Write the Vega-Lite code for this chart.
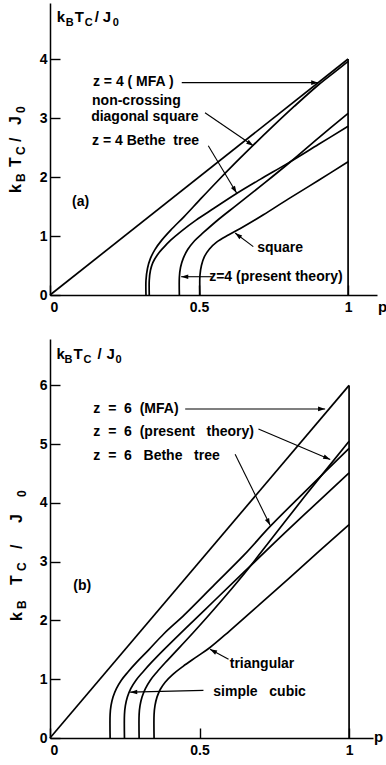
{
  "$schema": "https://vega.github.io/schema/vega-lite/v6.json",
  "padding": {"left": 8, "top": 3, "right": 0, "bottom": 0},
  "spacing": 24,
  "config": {
    "view": {"stroke": null},
    "font": "Liberation Sans",
    "axis": {
      "grid": false,
      "domainColor": "black",
      "domainWidth": 1.5,
      "tickColor": "black",
      "tickWidth": 1.4,
      "tickSize": -10,
      "labelColor": "black",
      "labelFont": "Liberation Sans",
      "labelFontWeight": "bold",
      "labelFontSize": 14
    },
    "text": {"font": "Liberation Sans", "fontWeight": "bold", "color": "black"}
  },
  "datasets": {
    "curvesA": [
      {"curve": "mfa", "i": 0, "p": 0, "tc": 0},
      {"curve": "mfa", "i": 1, "p": 1, "tc": 4},
      {"curve": "edge", "i": 0, "p": 1, "tc": 0},
      {"curve": "edge", "i": 1, "p": 1, "tc": 4},
      {"curve": "ncds", "i": 0, "p": 0.322, "tc": 0},
      {"curve": "ncds", "i": 1, "p": 0.322, "tc": 0.25},
      {"curve": "ncds", "i": 2, "p": 0.327, "tc": 0.45},
      {"curve": "ncds", "i": 3, "p": 0.337, "tc": 0.62},
      {"curve": "ncds", "i": 4, "p": 0.352, "tc": 0.77},
      {"curve": "ncds", "i": 5, "p": 0.375, "tc": 0.93},
      {"curve": "ncds", "i": 6, "p": 0.405, "tc": 1.1},
      {"curve": "ncds", "i": 7, "p": 0.45, "tc": 1.33},
      {"curve": "ncds", "i": 8, "p": 0.5, "tc": 1.6},
      {"curve": "ncds", "i": 9, "p": 0.56, "tc": 1.92},
      {"curve": "ncds", "i": 10, "p": 0.62, "tc": 2.23},
      {"curve": "ncds", "i": 11, "p": 0.682, "tc": 2.54},
      {"curve": "ncds", "i": 12, "p": 0.75, "tc": 2.87},
      {"curve": "ncds", "i": 13, "p": 0.82, "tc": 3.2},
      {"curve": "ncds", "i": 14, "p": 0.9, "tc": 3.56},
      {"curve": "ncds", "i": 15, "p": 0.96, "tc": 3.8},
      {"curve": "ncds", "i": 16, "p": 1, "tc": 3.96},
      {"curve": "bethe", "i": 0, "p": 0.333, "tc": 0},
      {"curve": "bethe", "i": 1, "p": 0.333, "tc": 0.25},
      {"curve": "bethe", "i": 2, "p": 0.337, "tc": 0.42},
      {"curve": "bethe", "i": 3, "p": 0.345, "tc": 0.55},
      {"curve": "bethe", "i": 4, "p": 0.36, "tc": 0.68},
      {"curve": "bethe", "i": 5, "p": 0.38, "tc": 0.8},
      {"curve": "bethe", "i": 6, "p": 0.405, "tc": 0.93},
      {"curve": "bethe", "i": 7, "p": 0.44, "tc": 1.08},
      {"curve": "bethe", "i": 8, "p": 0.49, "tc": 1.27},
      {"curve": "bethe", "i": 9, "p": 0.55, "tc": 1.47},
      {"curve": "bethe", "i": 10, "p": 0.626, "tc": 1.72},
      {"curve": "bethe", "i": 11, "p": 0.705, "tc": 1.96},
      {"curve": "bethe", "i": 12, "p": 0.8, "tc": 2.24},
      {"curve": "bethe", "i": 13, "p": 0.9, "tc": 2.55},
      {"curve": "bethe", "i": 14, "p": 1, "tc": 2.86},
      {"curve": "present", "i": 0, "p": 0.434, "tc": 0},
      {"curve": "present", "i": 1, "p": 0.434, "tc": 0.3},
      {"curve": "present", "i": 2, "p": 0.438, "tc": 0.47},
      {"curve": "present", "i": 3, "p": 0.447, "tc": 0.62},
      {"curve": "present", "i": 4, "p": 0.462, "tc": 0.77},
      {"curve": "present", "i": 5, "p": 0.485, "tc": 0.92},
      {"curve": "present", "i": 6, "p": 0.515, "tc": 1.06},
      {"curve": "present", "i": 7, "p": 0.565, "tc": 1.28},
      {"curve": "present", "i": 8, "p": 0.625, "tc": 1.52},
      {"curve": "present", "i": 9, "p": 0.72, "tc": 1.9},
      {"curve": "present", "i": 10, "p": 0.805, "tc": 2.25},
      {"curve": "present", "i": 11, "p": 0.9, "tc": 2.66},
      {"curve": "present", "i": 12, "p": 1, "tc": 3.08},
      {"curve": "square", "i": 0, "p": 0.503, "tc": 0},
      {"curve": "square", "i": 1, "p": 0.503, "tc": 0.33},
      {"curve": "square", "i": 2, "p": 0.508, "tc": 0.5},
      {"curve": "square", "i": 3, "p": 0.518, "tc": 0.65},
      {"curve": "square", "i": 4, "p": 0.535, "tc": 0.78},
      {"curve": "square", "i": 5, "p": 0.56, "tc": 0.9},
      {"curve": "square", "i": 6, "p": 0.6, "tc": 1.02},
      {"curve": "square", "i": 7, "p": 0.65, "tc": 1.16},
      {"curve": "square", "i": 8, "p": 0.716, "tc": 1.36},
      {"curve": "square", "i": 9, "p": 0.8, "tc": 1.63},
      {"curve": "square", "i": 10, "p": 0.9, "tc": 1.94},
      {"curve": "square", "i": 11, "p": 1, "tc": 2.26}
    ],
    "curvesB": [
      {"curve": "mfa", "i": 0, "p": 0, "tc": 0},
      {"curve": "mfa", "i": 1, "p": 1, "tc": 6},
      {"curve": "edge", "i": 0, "p": 1, "tc": 0},
      {"curve": "edge", "i": 1, "p": 1, "tc": 6},
      {"curve": "bethe", "i": 0, "p": 0.201, "tc": 0},
      {"curve": "bethe", "i": 1, "p": 0.201, "tc": 0.4},
      {"curve": "bethe", "i": 2, "p": 0.204, "tc": 0.55},
      {"curve": "bethe", "i": 3, "p": 0.211, "tc": 0.7},
      {"curve": "bethe", "i": 4, "p": 0.222, "tc": 0.84},
      {"curve": "bethe", "i": 5, "p": 0.238, "tc": 0.98},
      {"curve": "bethe", "i": 6, "p": 0.26, "tc": 1.12},
      {"curve": "bethe", "i": 7, "p": 0.29, "tc": 1.29},
      {"curve": "bethe", "i": 8, "p": 0.33, "tc": 1.5},
      {"curve": "bethe", "i": 9, "p": 0.38, "tc": 1.77},
      {"curve": "bethe", "i": 10, "p": 0.45, "tc": 2.1},
      {"curve": "bethe", "i": 11, "p": 0.55, "tc": 2.61},
      {"curve": "bethe", "i": 12, "p": 0.65, "tc": 3.12},
      {"curve": "bethe", "i": 13, "p": 0.736, "tc": 3.6},
      {"curve": "bethe", "i": 14, "p": 0.85, "tc": 4.18},
      {"curve": "bethe", "i": 15, "p": 1, "tc": 4.93},
      {"curve": "sc", "i": 0, "p": 0.249, "tc": 0},
      {"curve": "sc", "i": 1, "p": 0.249, "tc": 0.4},
      {"curve": "sc", "i": 2, "p": 0.252, "tc": 0.55},
      {"curve": "sc", "i": 3, "p": 0.259, "tc": 0.7},
      {"curve": "sc", "i": 4, "p": 0.27, "tc": 0.84},
      {"curve": "sc", "i": 5, "p": 0.287, "tc": 0.98},
      {"curve": "sc", "i": 6, "p": 0.31, "tc": 1.12},
      {"curve": "sc", "i": 7, "p": 0.34, "tc": 1.29},
      {"curve": "sc", "i": 8, "p": 0.38, "tc": 1.5},
      {"curve": "sc", "i": 9, "p": 0.45, "tc": 1.85},
      {"curve": "sc", "i": 10, "p": 0.55, "tc": 2.34},
      {"curve": "sc", "i": 11, "p": 0.65, "tc": 2.83},
      {"curve": "sc", "i": 12, "p": 0.75, "tc": 3.32},
      {"curve": "sc", "i": 13, "p": 0.85, "tc": 3.8},
      {"curve": "sc", "i": 14, "p": 1, "tc": 4.51},
      {"curve": "present", "i": 0, "p": 0.298, "tc": 0},
      {"curve": "present", "i": 1, "p": 0.298, "tc": 0.4},
      {"curve": "present", "i": 2, "p": 0.301, "tc": 0.55},
      {"curve": "present", "i": 3, "p": 0.308, "tc": 0.7},
      {"curve": "present", "i": 4, "p": 0.319, "tc": 0.84},
      {"curve": "present", "i": 5, "p": 0.335, "tc": 0.98},
      {"curve": "present", "i": 6, "p": 0.357, "tc": 1.12},
      {"curve": "present", "i": 7, "p": 0.385, "tc": 1.28},
      {"curve": "present", "i": 8, "p": 0.42, "tc": 1.47},
      {"curve": "present", "i": 9, "p": 0.48, "tc": 1.8},
      {"curve": "present", "i": 10, "p": 0.55, "tc": 2.2},
      {"curve": "present", "i": 11, "p": 0.65, "tc": 2.8},
      {"curve": "present", "i": 12, "p": 0.75, "tc": 3.45},
      {"curve": "present", "i": 13, "p": 0.85, "tc": 4.1},
      {"curve": "present", "i": 14, "p": 1, "tc": 5.05},
      {"curve": "tri", "i": 0, "p": 0.348, "tc": 0},
      {"curve": "tri", "i": 1, "p": 0.348, "tc": 0.4},
      {"curve": "tri", "i": 2, "p": 0.351, "tc": 0.55},
      {"curve": "tri", "i": 3, "p": 0.358, "tc": 0.7},
      {"curve": "tri", "i": 4, "p": 0.369, "tc": 0.83},
      {"curve": "tri", "i": 5, "p": 0.385, "tc": 0.95},
      {"curve": "tri", "i": 6, "p": 0.41, "tc": 1.08},
      {"curve": "tri", "i": 7, "p": 0.445, "tc": 1.22},
      {"curve": "tri", "i": 8, "p": 0.49, "tc": 1.38},
      {"curve": "tri", "i": 9, "p": 0.535, "tc": 1.54},
      {"curve": "tri", "i": 10, "p": 0.6, "tc": 1.82},
      {"curve": "tri", "i": 11, "p": 0.7, "tc": 2.27},
      {"curve": "tri", "i": 12, "p": 0.8, "tc": 2.72},
      {"curve": "tri", "i": 13, "p": 0.9, "tc": 3.18},
      {"curve": "tri", "i": 14, "p": 1, "tc": 3.63}
    ],
    "arrowsA": [
      {"p": 0.442, "tc": 3.6, "p2": 0.9, "tc2": 3.6},
      {"p": 0.52, "tc": 3.09, "p2": 0.682, "tc2": 2.53},
      {"p": 0.531, "tc": 2.53, "p2": 0.626, "tc2": 1.73},
      {"p": 0.682, "tc": 0.82, "p2": 0.621, "tc2": 1.05},
      {"p": 0.543, "tc": 0.31, "p2": 0.44, "tc2": 0.31}
    ],
    "arrowsB": [
      {"p": 0.452, "tc": 5.6, "p2": 0.92, "tc2": 5.6},
      {"p": 0.697, "tc": 5.26, "p2": 0.937, "tc2": 4.74},
      {"p": 0.619, "tc": 4.83, "p2": 0.736, "tc2": 3.62},
      {"p": 0.597, "tc": 1.34, "p2": 0.535, "tc2": 1.51},
      {"p": 0.513, "tc": 0.81, "p2": 0.268, "tc2": 0.78}
    ],
    "notesA": [
      {"text": "z = 4 ( MFA )", "p": 0.144, "tc": 3.61},
      {"text": "non-crossing", "p": 0.141, "tc": 3.29},
      {"text": "diagonal square", "p": 0.138, "tc": 3.01},
      {"text": "z = 4 Bethe\u00a0\u00a0tree", "p": 0.141, "tc": 2.61},
      {"text": "(a)", "p": 0.074, "tc": 1.58},
      {"text": "square", "p": 0.695, "tc": 0.8},
      {"text": "z=4 (present theory)", "p": 0.534, "tc": 0.31}
    ],
    "notesB": [
      {"text": "z\u00a0\u00a0=\u00a0\u00a06\u00a0\u00a0(MFA)", "p": 0.145, "tc": 5.6},
      {"text": "z\u00a0\u00a0=\u00a0\u00a06\u00a0\u00a0(present\u00a0\u00a0\u00a0theory)", "p": 0.145, "tc": 5.21},
      {"text": "z\u00a0\u00a0=\u00a0\u00a06\u00a0\u00a0\u00a0Bethe\u00a0\u00a0\u00a0tree", "p": 0.145, "tc": 4.8},
      {"text": "(b)", "p": 0.078, "tc": 2.59},
      {"text": "triangular", "p": 0.601, "tc": 1.26},
      {"text": "simple\u00a0\u00a0\u00a0cubic", "p": 0.546, "tc": 0.79}
    ]
  },
  "vconcat": [
    {
      "width": 327,
      "height": 292,
      "layer": [
        {
          "data": {"name": "curvesA"},
          "mark": {"type": "line", "color": "black", "strokeWidth": 1.7, "interpolate": "catmull-rom"},
          "encoding": {
            "x": {"field": "p", "type": "quantitative",
                  "scale": {"domain": [0, 1.097], "nice": false, "zero": false},
                  "axis": {"title": null, "values": [0, 0.5, 1], "format": "~g", "labelPadding": 15}},
            "y": {"field": "tc", "type": "quantitative",
                  "scale": {"domain": [0, 4.95], "nice": false, "zero": false},
                  "axis": {"title": null, "values": [0, 1, 2, 3, 4], "format": "d", "labelPadding": 13}},
            "detail": {"field": "curve"},
            "order": {"field": "i", "type": "quantitative"}
          }
        },
        {
          "data": {"name": "arrowsA"},
          "mark": {"type": "rule", "color": "black", "strokeWidth": 1.1},
          "encoding": {
            "x": {"field": "p", "type": "quantitative"},
            "y": {"field": "tc", "type": "quantitative"},
            "x2": {"field": "p2"},
            "y2": {"field": "tc2"}
          }
        },
        {
          "data": {"name": "arrowsA"},
          "transform": [{"calculate": "atan2(-(datum.tc2 - datum.tc) * 59, (datum.p2 - datum.p) * 298) * 180 / PI", "as": "heading"}],
          "mark": {"type": "point", "shape": "M0,0L-1,-0.33L-1,0.33Z", "filled": true, "color": "black", "opacity": 1, "size": 200, "strokeWidth": 0},
          "encoding": {
            "x": {"field": "p2", "type": "quantitative"},
            "y": {"field": "tc2", "type": "quantitative"},
            "angle": {"field": "heading", "type": "quantitative", "scale": null}
          }
        },
        {
          "data": {"name": "notesA"},
          "mark": {"type": "text", "align": "left", "baseline": "middle", "fontSize": 14},
          "encoding": {
            "x": {"field": "p", "type": "quantitative"},
            "y": {"field": "tc", "type": "quantitative"},
            "text": {"field": "text"}
          }
        },
        {"data": {"values": [{}]}, "mark": {"type": "text", "align": "left", "baseline": "top", "dx": 0, "dy": 5, "fontSize": 15},
         "encoding": {"x": {"datum": 1.1}, "y": {"datum": 0}, "text": {"value": "p"}}},
        {"data": {"values": [{}]}, "mark": {"type": "text", "align": "left", "baseline": "alphabetic", "dx": 0, "dy": 0, "fontSize": 15},
         "encoding": {"x": {"datum": 0.023}, "y": {"datum": 4.63}, "text": {"value": "k"}}},
        {"data": {"values": [{}]}, "mark": {"type": "text", "align": "left", "baseline": "alphabetic", "dx": 9, "dy": 4, "fontSize": 11},
         "encoding": {"x": {"datum": 0.023}, "y": {"datum": 4.63}, "text": {"value": "B"}}},
        {"data": {"values": [{}]}, "mark": {"type": "text", "align": "left", "baseline": "alphabetic", "dx": 18, "dy": 0, "fontSize": 15},
         "encoding": {"x": {"datum": 0.023}, "y": {"datum": 4.63}, "text": {"value": "T"}}},
        {"data": {"values": [{}]}, "mark": {"type": "text", "align": "left", "baseline": "alphabetic", "dx": 28, "dy": 4, "fontSize": 11},
         "encoding": {"x": {"datum": 0.023}, "y": {"datum": 4.63}, "text": {"value": "C"}}},
        {"data": {"values": [{}]}, "mark": {"type": "text", "align": "left", "baseline": "alphabetic", "dx": 38, "dy": 0, "fontSize": 15},
         "encoding": {"x": {"datum": 0.023}, "y": {"datum": 4.63}, "text": {"value": "/"}}},
        {"data": {"values": [{}]}, "mark": {"type": "text", "align": "left", "baseline": "alphabetic", "dx": 46, "dy": 0, "fontSize": 15},
         "encoding": {"x": {"datum": 0.023}, "y": {"datum": 4.63}, "text": {"value": "J"}}},
        {"data": {"values": [{}]}, "mark": {"type": "text", "align": "left", "baseline": "alphabetic", "dx": 56, "dy": 4, "fontSize": 11},
         "encoding": {"x": {"datum": 0.023}, "y": {"datum": 4.63}, "text": {"value": "0"}}},
        {"data": {"values": [{}]}, "mark": {"type": "text", "angle": 270, "align": "left", "baseline": "alphabetic", "dx": 0, "dy": 0, "fontSize": 16},
         "encoding": {"x": {"datum": -0.097}, "y": {"datum": 1.73}, "text": {"value": "k"}}},
        {"data": {"values": [{}]}, "mark": {"type": "text", "angle": 270, "align": "left", "baseline": "alphabetic", "dx": 11, "dy": 4, "fontSize": 12},
         "encoding": {"x": {"datum": -0.097}, "y": {"datum": 1.73}, "text": {"value": "B"}}},
        {"data": {"values": [{}]}, "mark": {"type": "text", "angle": 270, "align": "left", "baseline": "alphabetic", "dx": 26, "dy": 0, "fontSize": 16},
         "encoding": {"x": {"datum": -0.097}, "y": {"datum": 1.73}, "text": {"value": "T"}}},
        {"data": {"values": [{}]}, "mark": {"type": "text", "angle": 270, "align": "left", "baseline": "alphabetic", "dx": 38, "dy": 4, "fontSize": 12},
         "encoding": {"x": {"datum": -0.097}, "y": {"datum": 1.73}, "text": {"value": "C"}}},
        {"data": {"values": [{}]}, "mark": {"type": "text", "angle": 270, "align": "left", "baseline": "alphabetic", "dx": 51, "dy": 0, "fontSize": 16},
         "encoding": {"x": {"datum": -0.097}, "y": {"datum": 1.73}, "text": {"value": "/"}}},
        {"data": {"values": [{}]}, "mark": {"type": "text", "angle": 270, "align": "left", "baseline": "alphabetic", "dx": 68, "dy": 0, "fontSize": 16},
         "encoding": {"x": {"datum": -0.097}, "y": {"datum": 1.73}, "text": {"value": "J"}}},
        {"data": {"values": [{}]}, "mark": {"type": "text", "angle": 270, "align": "left", "baseline": "alphabetic", "dx": 80, "dy": 4, "fontSize": 12},
         "encoding": {"x": {"datum": -0.097}, "y": {"datum": 1.73}, "text": {"value": "0"}}}
      ]
    },
    {
      "width": 323,
      "height": 399,
      "layer": [
        {
          "data": {"name": "curvesB"},
          "mark": {"type": "line", "color": "black", "strokeWidth": 1.7, "interpolate": "catmull-rom"},
          "encoding": {
            "x": {"field": "p", "type": "quantitative",
                  "scale": {"domain": [0, 1.08], "nice": false, "zero": false},
                  "axis": {"title": null, "values": [0, 0.5, 1], "format": "~g", "labelPadding": 15}},
            "y": {"field": "tc", "type": "quantitative",
                  "scale": {"domain": [0, 6.79], "nice": false, "zero": false},
                  "axis": {"title": null, "values": [0, 1, 2, 3, 4, 5, 6], "format": "d", "labelPadding": 13}},
            "detail": {"field": "curve"},
            "order": {"field": "i", "type": "quantitative"}
          }
        },
        {
          "data": {"name": "arrowsB"},
          "mark": {"type": "rule", "color": "black", "strokeWidth": 1.1},
          "encoding": {
            "x": {"field": "p", "type": "quantitative"},
            "y": {"field": "tc", "type": "quantitative"},
            "x2": {"field": "p2"},
            "y2": {"field": "tc2"}
          }
        },
        {
          "data": {"name": "arrowsB"},
          "transform": [{"calculate": "atan2(-(datum.tc2 - datum.tc) * 58.8, (datum.p2 - datum.p) * 299) * 180 / PI", "as": "heading"}],
          "mark": {"type": "point", "shape": "M0,0L-1,-0.33L-1,0.33Z", "filled": true, "color": "black", "opacity": 1, "size": 200, "strokeWidth": 0},
          "encoding": {
            "x": {"field": "p2", "type": "quantitative"},
            "y": {"field": "tc2", "type": "quantitative"},
            "angle": {"field": "heading", "type": "quantitative", "scale": null}
          }
        },
        {
          "data": {"name": "notesB"},
          "mark": {"type": "text", "align": "left", "baseline": "middle", "fontSize": 14},
          "encoding": {
            "x": {"field": "p", "type": "quantitative"},
            "y": {"field": "tc", "type": "quantitative"},
            "text": {"field": "text"}
          }
        },
        {"data": {"values": [{}]}, "mark": {"type": "text", "align": "left", "baseline": "alphabetic", "dx": 0, "dy": 4, "fontSize": 15},
         "encoding": {"x": {"datum": 1.083}, "y": {"datum": 0}, "text": {"value": "p"}}},
        {"data": {"values": [{}]}, "mark": {"type": "text", "align": "left", "baseline": "alphabetic", "dx": 0, "dy": 0, "fontSize": 15},
         "encoding": {"x": {"datum": 0.022}, "y": {"datum": 6.45}, "text": {"value": "k"}}},
        {"data": {"values": [{}]}, "mark": {"type": "text", "align": "left", "baseline": "alphabetic", "dx": 8, "dy": 4, "fontSize": 11},
         "encoding": {"x": {"datum": 0.022}, "y": {"datum": 6.45}, "text": {"value": "B"}}},
        {"data": {"values": [{}]}, "mark": {"type": "text", "align": "left", "baseline": "alphabetic", "dx": 17, "dy": 0, "fontSize": 15},
         "encoding": {"x": {"datum": 0.022}, "y": {"datum": 6.45}, "text": {"value": "T"}}},
        {"data": {"values": [{}]}, "mark": {"type": "text", "align": "left", "baseline": "alphabetic", "dx": 27, "dy": 4, "fontSize": 11},
         "encoding": {"x": {"datum": 0.022}, "y": {"datum": 6.45}, "text": {"value": "C"}}},
        {"data": {"values": [{}]}, "mark": {"type": "text", "align": "left", "baseline": "alphabetic", "dx": 41, "dy": 0, "fontSize": 15},
         "encoding": {"x": {"datum": 0.022}, "y": {"datum": 6.45}, "text": {"value": "/"}}},
        {"data": {"values": [{}]}, "mark": {"type": "text", "align": "left", "baseline": "alphabetic", "dx": 50, "dy": 0, "fontSize": 15},
         "encoding": {"x": {"datum": 0.022}, "y": {"datum": 6.45}, "text": {"value": "J"}}},
        {"data": {"values": [{}]}, "mark": {"type": "text", "align": "left", "baseline": "alphabetic", "dx": 59, "dy": 4, "fontSize": 11},
         "encoding": {"x": {"datum": 0.022}, "y": {"datum": 6.45}, "text": {"value": "0"}}},
        {"data": {"values": [{}]}, "mark": {"type": "text", "angle": 270, "align": "left", "baseline": "alphabetic", "dx": 0, "dy": 0, "fontSize": 16},
         "encoding": {"x": {"datum": -0.095}, "y": {"datum": 1.99}, "text": {"value": "k"}}},
        {"data": {"values": [{}]}, "mark": {"type": "text", "angle": 270, "align": "left", "baseline": "alphabetic", "dx": 12, "dy": 4, "fontSize": 12},
         "encoding": {"x": {"datum": -0.095}, "y": {"datum": 1.99}, "text": {"value": "B"}}},
        {"data": {"values": [{}]}, "mark": {"type": "text", "angle": 270, "align": "left", "baseline": "alphabetic", "dx": 36, "dy": 0, "fontSize": 16},
         "encoding": {"x": {"datum": -0.095}, "y": {"datum": 1.99}, "text": {"value": "T"}}},
        {"data": {"values": [{}]}, "mark": {"type": "text", "angle": 270, "align": "left", "baseline": "alphabetic", "dx": 50, "dy": 4, "fontSize": 12},
         "encoding": {"x": {"datum": -0.095}, "y": {"datum": 1.99}, "text": {"value": "C"}}},
        {"data": {"values": [{}]}, "mark": {"type": "text", "angle": 270, "align": "left", "baseline": "alphabetic", "dx": 72, "dy": 0, "fontSize": 16},
         "encoding": {"x": {"datum": -0.095}, "y": {"datum": 1.99}, "text": {"value": "/"}}},
        {"data": {"values": [{}]}, "mark": {"type": "text", "angle": 270, "align": "left", "baseline": "alphabetic", "dx": 98, "dy": 0, "fontSize": 16},
         "encoding": {"x": {"datum": -0.095}, "y": {"datum": 1.99}, "text": {"value": "J"}}},
        {"data": {"values": [{}]}, "mark": {"type": "text", "angle": 270, "align": "left", "baseline": "alphabetic", "dx": 124, "dy": 4, "fontSize": 12},
         "encoding": {"x": {"datum": -0.095}, "y": {"datum": 1.99}, "text": {"value": "0"}}}
      ]
    }
  ]
}
